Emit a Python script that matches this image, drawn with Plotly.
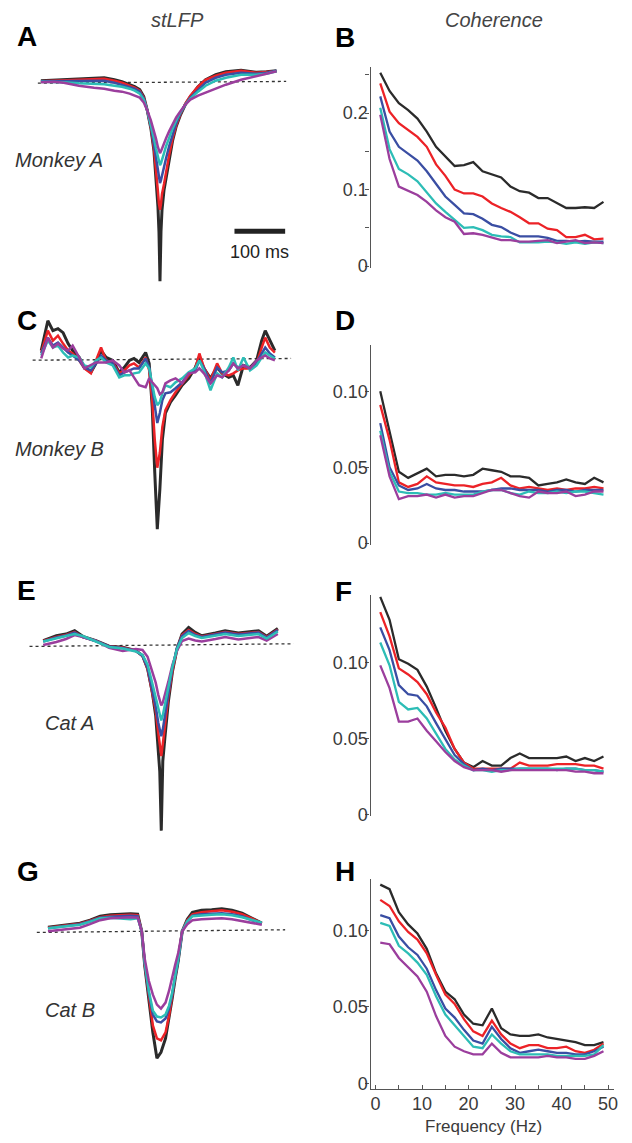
import plotly.graph_objects as go

W, H = 632, 1143

# ---------------- stLFP data (time in ms re spike, amplitude in arbitrary units, baseline = 0) ----------------
t_A = [-235, -210, -190, -160, -130, -110, -90, -75, -60, -50, -40, -32, -25, -18, -12, -8, -4, -2, 0, 2,
       4, 8, 12, 18, 25, 32, 40, 50, 60, 75, 90, 110, 130, 160, 190, 210, 230]
A_black = [2, 2.5, 3, 3.5, 4.5, 5, 3, 1, -2, -4, -7, -14, -28, -46, -68, -95, -125, -150, -200, -150,
           -128, -108, -96, -76, -58, -44, -33, -22, -14, -4, 3, 8, 11, 12.5, 10.5, 11, 12]
A_red = [1.5, 2, 2.5, 3, 4, 4, 2, 0, -3, -5, -8, -15, -28, -45, -66, -85, -110, -122, -128, -122,
         -112, -102, -90, -73, -56, -43, -32, -21, -13, -4, 3, 7, 10, 12, 10, 10.5, 11.5]
A_blue = [1.5, 1.5, 1.5, 1.5, 2, 2, 0, -2, -4, -6, -9, -16, -28, -44, -62, -76, -90, -97, -101, -98,
          -93, -85, -76, -64, -52, -41, -31, -22, -15, -7, 0, 5, 8, 10, 9, 10, 12]
A_cyan = [1, 1, 0.5, -0.5, -1.5, -1.5, -3, -4, -6, -8, -11, -17, -28, -42, -56, -66, -76, -80, -83, -81,
          -77, -71, -64, -55, -46, -38, -30, -22, -16, -9, -3, 2, 5, 8, 8, 9, 11.5]
A_purple = [0.5, 1, 0, -3, -5, -6, -8, -9, -11, -13, -15, -20, -28, -38, -48, -56, -65, -69, -71, -69,
            -66, -61, -56, -49, -42, -35, -29, -22, -17, -13, -10, -6, -2, 3, 7, 9, 11.5]

t_C = [-229, -216, -206, -196, -186, -176, -167, -154, -144, -131, -121, -111, -101, -88, -75, -65, -55, -46, -36, -23,
       -16, -10, -5, 0, 5, 10, 16, 26, 36, 49, 62, 75, 83, 92, 105, 118, 128, 141, 150, 159,
       170, 183, 196, 206, 213, 222, 232]
C_black = [9, 39, 29, 31, 27, 16, 9, 2, -8, -13, -4, 9, 2, -1, -13, -8, -1, 1, -3, 7,
           -4, -48, -114, -171, -131, -81, -54, -43, -36, -26, -19, -8, 2, -9, -19, -8, -14, -18, -16, -26,
           -6, -8, -1, 19, 29, 19, 9]
C_red = [7, 29, 19, 24, 16, 9, 6, -1, -9, -14, -1, 12, -1, -3, -14, -11, -6, -4, -8, 2,
         -11, -41, -81, -109, -94, -68, -51, -41, -33, -24, -16, -9, 6, -8, -21, -4, -14, -16, -14, -11,
         -9, -9, -4, 12, 22, 12, 7]
C_blue = [6, 22, 14, 17, 12, 7, 4, -1, -8, -11, -4, 4, -1, -4, -16, -13, -11, -9, -9, 1,
          -8, -28, -48, -64, -54, -41, -34, -33, -29, -23, -14, -11, -1, -9, -24, -8, -13, -11, -4, -8,
          -6, -9, -3, 6, 12, 6, 2]
C_cyan = [4, 19, 12, 14, 7, 2, 4, 2, -6, -8, -1, 2, -3, -6, -18, -16, -16, -14, -13, -4,
          -9, -24, -38, -46, -43, -34, -26, -28, -23, -19, -13, -9, -1, -11, -31, -14, -18, -8, 2, -11,
          2, -11, -6, 2, 7, 4, 1]
C_purple = [1, 22, 12, 16, 11, 9, 14, 2, -9, -6, -3, -3, -3, -1, -6, -13, -11, -18, -26, -28,
            -19, -23, -26, -29, -35, -33, -24, -21, -19, -24, -14, -13, -9, -14, -24, -16, -18, -11, -4, -9,
            -6, -9, -1, 2, 4, 1, -1]

t_E = [-233, -207, -188, -171, -155, -129, -103, -76, -50, -37, -27, -18, -11, -6, -3, 0, 3, 7, 14, 22,
       31, 41, 54, 67, 80, 107, 126, 152, 172, 192, 208, 230]
E_black = [4.3, 9.3, 11, 14.3, 8.7, 4.3, -1.3, -2.3, -5.7, -10.7, -24, -47, -71, -104, -127, -187, -117, -94, -57, -27,
           -4, 11, 17.7, 12.7, 9.3, 12, 14.3, 12, 13.3, 14.3, 8.7, 16.7]
E_red = [4, 8, 10, 13, 8, 4, -1.5, -2.5, -6, -11, -24, -46, -66, -88, -102, -112, -100, -82, -52, -26,
         -4, 10, 15, 11, 8.5, 11, 13, 11, 12, 13, 8, 15.5]
E_blue = [3.5, 7.5, 9.5, 12.5, 8, 4, -1.5, -3, -6, -11, -23, -44, -62, -78, -87, -92, -85, -72, -47, -23,
          -3, 9, 14, 10, 8, 10.5, 12.5, 10.5, 11.5, 12.5, 7.5, 15]
E_cyan = [3.5, 7, 9, 11, 9, 3.5, -2, -3.5, -6.5, -10, -20, -38, -52, -64, -71, -76, -71, -61, -42, -22,
          -4, 7, 12, 9, 7, 9, 11, 9, 10, 11, 6.5, 13.5]
E_purple = [0, 3, 6, 10, 8, 4, -3, -6, -4, -5, -12, -26, -38, -50, -57, -61, -58, -51, -37, -20,
            -6, 4, 6.5, 4.5, 3.5, 6, 8, 5.5, 7, 8, 4.5, 11]

t_G = [-223, -200, -180, -160, -140, -120, -100, -80, -60, -46, -38, -32, -24, -16, -8, 0, 9, 16, 22, 28,
       34, 42, 52, 62, 80, 100, 120, 140, 160, 180, 199]
G_black = [4, 5.5, 6.5, 8, 11, 15, 16.5, 17, 17.5, 17, 0, -35, -67, -102, -128, -122, -108, -88, -68, -48,
           -30, 0, 12, 19, 21, 21.5, 22.5, 21, 18, 13, 8]
G_red = [3.5, 5, 6, 7.5, 10.5, 14, 15.5, 16, 16.5, 16, 0, -34, -65, -95, -108, -110, -102, -85, -66, -47,
         -29, 0, 11, 17, 19, 20, 21, 19.5, 17, 12.5, 8]
G_blue = [3, 4.5, 5.5, 7, 10, 13.5, 14.5, 15, 15.5, 15, 0, -33, -62, -84, -91, -92, -88, -78, -64, -46,
          -29, 0, 10, 15.5, 17, 17.5, 18, 17, 15, 11, 8]
G_cyan = [3, 4, 5, 6.5, 9.5, 13, 13.5, 12.5, 12, 13, 0, -32, -60, -80, -86, -87, -84, -75, -62, -45,
          -28, 0, 10, 15, 16, 16.5, 17, 16, 14, 11, 8.5]
G_purple = [0, 1, 2, 3.5, 7, 11, 13, 13.5, 14, 13.5, 0, -28, -50, -64, -74, -78, -72, -60, -46, -34,
            -22, 0, 7, 11, 12, 12.5, 13, 12, 10, 8, 6.5]

# dotted zero lines (start/end time, level)
base_A_t, base_A_v = [-241, 249], [-0.4, 1.3]
base_C_t, base_C_v = [-246, 264], [-0.7, 1.0]
base_E_t, base_E_v = [-260, 261], [-1.5, 1.2]
base_G_t, base_G_v = [-245, 245], [-1.3, 1.4]

# 100 ms scale bar (panel A)
scale_t = [147, 247]
scale_v = [-149.5, -149.5]

# ---------------- Coherence data ----------------
freq = [1, 3, 5, 7, 9, 11, 13, 15, 17, 19, 21, 23, 25, 27, 29, 31, 33, 35, 37, 39, 41, 43, 45, 47, 49]

B_black = [0.253, 0.229, 0.213, 0.204, 0.193, 0.176, 0.156, 0.144, 0.131, 0.132, 0.136, 0.124, 0.120, 0.116, 0.104,
           0.098, 0.096, 0.089, 0.089, 0.082, 0.076, 0.076, 0.077, 0.076, 0.084]
B_red = [0.239, 0.202, 0.187, 0.178, 0.169, 0.156, 0.133, 0.118, 0.100, 0.095, 0.095, 0.091, 0.082, 0.076, 0.071,
         0.064, 0.056, 0.056, 0.049, 0.047, 0.038, 0.038, 0.041, 0.035, 0.036]
B_blue = [0.222, 0.176, 0.156, 0.147, 0.138, 0.124, 0.107, 0.091, 0.080, 0.069, 0.068, 0.062, 0.054, 0.051, 0.044,
          0.039, 0.039, 0.039, 0.037, 0.033, 0.033, 0.032, 0.033, 0.032, 0.032]
B_cyan = [0.207, 0.153, 0.127, 0.120, 0.111, 0.096, 0.082, 0.071, 0.060, 0.050, 0.051, 0.047, 0.041, 0.039, 0.038,
          0.031, 0.031, 0.031, 0.032, 0.031, 0.029, 0.031, 0.029, 0.031, 0.030]
B_purple = [0.198, 0.140, 0.104, 0.098, 0.093, 0.084, 0.073, 0.064, 0.058, 0.042, 0.043, 0.041, 0.037, 0.034, 0.034,
            0.032, 0.032, 0.033, 0.034, 0.030, 0.032, 0.034, 0.030, 0.031, 0.030]

D_black = [0.100, 0.074, 0.047, 0.043, 0.046, 0.049, 0.044, 0.045, 0.045, 0.044, 0.045, 0.049, 0.048, 0.047, 0.044,
           0.044, 0.043, 0.038, 0.039, 0.040, 0.042, 0.040, 0.039, 0.043, 0.040]
D_red = [0.091, 0.068, 0.040, 0.037, 0.039, 0.044, 0.040, 0.039, 0.038, 0.038, 0.037, 0.039, 0.040, 0.043, 0.038,
         0.036, 0.037, 0.036, 0.035, 0.036, 0.035, 0.036, 0.036, 0.037, 0.036]
D_blue = [0.079, 0.050, 0.038, 0.035, 0.036, 0.039, 0.036, 0.035, 0.035, 0.034, 0.034, 0.034, 0.035, 0.036, 0.036,
          0.035, 0.035, 0.035, 0.034, 0.035, 0.035, 0.034, 0.035, 0.035, 0.035]
D_cyan = [0.074, 0.047, 0.034, 0.033, 0.033, 0.032, 0.032, 0.033, 0.032, 0.032, 0.032, 0.034, 0.035, 0.035, 0.033,
          0.032, 0.034, 0.033, 0.033, 0.034, 0.033, 0.034, 0.034, 0.033, 0.032]
D_purple = [0.071, 0.044, 0.029, 0.031, 0.031, 0.032, 0.030, 0.032, 0.030, 0.031, 0.031, 0.033, 0.035, 0.035, 0.033,
            0.031, 0.030, 0.034, 0.033, 0.033, 0.034, 0.031, 0.032, 0.034, 0.034]

F_black = [0.143, 0.128, 0.102, 0.099, 0.095, 0.084, 0.070, 0.055, 0.043, 0.034, 0.031, 0.035, 0.032, 0.032, 0.037,
           0.040, 0.037, 0.037, 0.037, 0.037, 0.038, 0.035, 0.037, 0.035, 0.038]
F_red = [0.133, 0.117, 0.096, 0.092, 0.087, 0.079, 0.067, 0.057, 0.043, 0.034, 0.030, 0.030, 0.030, 0.030, 0.030,
         0.034, 0.032, 0.032, 0.032, 0.033, 0.033, 0.033, 0.032, 0.032, 0.030]
F_blue = [0.123, 0.108, 0.085, 0.079, 0.078, 0.071, 0.060, 0.049, 0.039, 0.033, 0.029, 0.030, 0.029, 0.030, 0.030,
          0.030, 0.030, 0.030, 0.030, 0.029, 0.030, 0.030, 0.029, 0.029, 0.028]
F_cyan = [0.113, 0.098, 0.074, 0.069, 0.070, 0.063, 0.053, 0.043, 0.036, 0.032, 0.029, 0.029, 0.028, 0.029, 0.029,
          0.030, 0.030, 0.030, 0.030, 0.030, 0.030, 0.030, 0.029, 0.029, 0.028]
F_purple = [0.098, 0.083, 0.061, 0.061, 0.063, 0.055, 0.048, 0.041, 0.035, 0.031, 0.029, 0.029, 0.029, 0.028, 0.029,
            0.029, 0.029, 0.029, 0.029, 0.029, 0.029, 0.028, 0.028, 0.027, 0.027]

H_black = [0.130, 0.127, 0.112, 0.104, 0.098, 0.088, 0.072, 0.060, 0.055, 0.045, 0.039, 0.038, 0.049, 0.036, 0.032,
           0.031, 0.031, 0.032, 0.030, 0.029, 0.028, 0.027, 0.025, 0.025, 0.027]
H_red = [0.120, 0.116, 0.106, 0.099, 0.094, 0.085, 0.071, 0.058, 0.052, 0.042, 0.034, 0.031, 0.041, 0.032, 0.026,
         0.023, 0.025, 0.025, 0.023, 0.023, 0.024, 0.021, 0.020, 0.022, 0.026]
H_blue = [0.110, 0.108, 0.096, 0.089, 0.084, 0.075, 0.061, 0.049, 0.043, 0.035, 0.028, 0.026, 0.037, 0.029, 0.023,
          0.020, 0.021, 0.022, 0.021, 0.020, 0.020, 0.019, 0.019, 0.021, 0.024]
H_cyan = [0.105, 0.103, 0.090, 0.085, 0.079, 0.071, 0.057, 0.045, 0.038, 0.031, 0.024, 0.023, 0.032, 0.026, 0.021,
          0.019, 0.019, 0.019, 0.019, 0.018, 0.018, 0.018, 0.018, 0.019, 0.025]
H_purple = [0.092, 0.091, 0.082, 0.076, 0.070, 0.060, 0.044, 0.031, 0.024, 0.021, 0.019, 0.019, 0.026, 0.020, 0.017,
            0.017, 0.017, 0.017, 0.018, 0.017, 0.017, 0.016, 0.016, 0.018, 0.021]

# ---------------- styling ----------------
COL = {"black": "#2b2b2b", "red": "#ec2227", "blue": "#3a4ea3", "cyan": "#2dbdb6", "purple": "#9b3e9d"}
FONT = "Liberation Sans, Arial, Helvetica, sans-serif"
GRAY = "#3a3a3a"


def pxx(x):
    return x / W


def pxy(y):
    return 1 - y / H


fig = go.Figure()

MS_PER_PX = 1 / 0.51
left_panels = [
    # axis index, time, series, zero-time pixel, (top, bottom) pixels, baseline pixel, baseline
    (1, t_A, [("black", A_black), ("red", A_red), ("blue", A_blue), ("cyan", A_cyan), ("purple", A_purple)],
     161.0, (45, 295), 83.3, (base_A_t, base_A_v)),
    (3, t_C, [("black", C_black), ("red", C_red), ("blue", C_blue), ("cyan", C_cyan), ("purple", C_purple)],
     158.3, (300, 545), 362.0, (base_C_t, base_C_v)),
    (5, t_E, [("black", E_black), ("red", E_red), ("blue", E_blue), ("purple", E_purple), ("cyan", E_cyan)],
     162.3, (570, 845), 649.5, (base_E_t, base_E_v)),
    (7, t_G, [("black", G_black), ("red", G_red), ("blue", G_blue), ("cyan", G_cyan), ("purple", G_purple)],
     162.0, (850, 1080), 937.7, (base_G_t, base_G_v)),
]

layout_axes = {}
for k, t, series, c, (top, bot), b, (bt, bv) in left_panels:
    xa, ya = f"x{k}", f"y{k}"
    fig.add_trace(go.Scatter(x=bt, y=bv, mode="lines", xaxis=xa, yaxis=ya,
                             line=dict(color="#333333", width=1.3, dash="dot"),
                             showlegend=False, hoverinfo="skip"))
    for name, vals in series:
        fig.add_trace(go.Scatter(x=t, y=vals, mode="lines", xaxis=xa, yaxis=ya,
                                 line=dict(color=COL[name], width=3.0 if name == "black" else 2.5),
                                 showlegend=False, hoverinfo="skip"))
    layout_axes[f"xaxis{k}"] = dict(domain=[pxx(20), pxx(310)],
                                    range=[(20 - c) * MS_PER_PX, (310 - c) * MS_PER_PX],
                                    visible=False, anchor=ya)
    layout_axes[f"yaxis{k}"] = dict(domain=[pxy(bot), pxy(top)], range=[b - bot, b - top],
                                    visible=False, anchor=xa)

# scale bar
fig.add_trace(go.Scatter(x=scale_t, y=scale_v, mode="lines", xaxis="x1", yaxis="y1",
                         line=dict(color="#222222", width=5), showlegend=False, hoverinfo="skip"))

right_panels = [
    (2, [("black", B_black), ("red", B_red), ("blue", B_blue), ("cyan", B_cyan), ("purple", B_purple)],
     (67, 270), [-0.0026, 0.261], [0, 0.1, 0.2], ["0", "0.1", "0.2"], [0.05, 0.15, 0.25]),
    (4, [("black", D_black), ("red", D_red), ("blue", D_blue), ("cyan", D_cyan), ("purple", D_purple)],
     (347, 549), [-0.0013, 0.1307], [0, 0.05, 0.10], ["0", "0.05", "0.10"], []),
    (6, [("black", F_black), ("red", F_red), ("blue", F_blue), ("cyan", F_cyan), ("purple", F_purple)],
     (599, 822), [-0.0013, 0.1444], [0, 0.05, 0.10], ["0", "0.05", "0.10"], []),
    (8, [("black", H_black), ("red", H_red), ("blue", H_blue), ("cyan", H_cyan), ("purple", H_purple)],
     (885, 1097), [-0.0039, 0.1338], [0, 0.05, 0.10], ["0", "0.05", "0.10"], []),
]

F0_PX, HZ_PX = 378.0, 4.68
for k, series, (top, bot), yr, tv, tt, minor in right_panels:
    xa, ya = f"x{k}", f"y{k}"
    for name, vals in series:
        fig.add_trace(go.Scatter(x=freq, y=vals, mode="lines", xaxis=xa, yaxis=ya,
                                 line=dict(color=COL[name], width=2.3),
                                 showlegend=False, hoverinfo="skip"))
    xdef = dict(domain=[pxx(373), pxx(618)],
                range=[(373 - F0_PX) / HZ_PX, (618 - F0_PX) / HZ_PX],
                anchor=ya, showgrid=False, zeroline=False)
    if k == 8:
        xdef.update(showline=True, linecolor="#555555", linewidth=1.3,
                    ticks="inside", ticklen=4, tickcolor="#555555", tickwidth=1.2,
                    tickvals=[0, 10, 20, 30, 40, 50], ticktext=["0", "10", "20", "30", "40", "50"],
                    tickfont=dict(family=FONT, size=18, color=GRAY), ticklabelstandoff=-2,
                    minor=dict(tickvals=[5, 15, 25, 35, 45], ticks="inside", ticklen=4,
                               tickcolor="#555555", tickwidth=1.2))
    else:
        xdef.update(visible=False)
    layout_axes[f"xaxis{k}"] = xdef
    ydef = dict(domain=[pxy(bot), pxy(top)], range=yr, anchor=xa,
                showline=True, linecolor="#555555", linewidth=1.3,
                ticks="outside", ticklen=4, tickcolor="#555555", tickwidth=1.2,
                tickvals=tv, ticktext=tt, showgrid=False, zeroline=False,
                ticklabelstandoff=-6,
                tickfont=dict(family=FONT, size=18, color=GRAY))
    if minor:
        ydef["minor"] = dict(tickvals=minor, ticks="outside", ticklen=4, tickcolor="#555555", tickwidth=1.2)
    layout_axes[f"yaxis{k}"] = ydef

annotations = []
letters = [("A", 15, 37), ("B", 335, 37.5), ("C", 15, 323), ("D", 335, 322.5),
           ("E", 15, 595), ("F", 335, 596), ("G", 15, 878), ("H", 335, 878)]
for L, x, y in letters:
    annotations.append(dict(text=f"<b>{L}</b>", x=pxx(x), y=pxy(y), xref="paper", yref="paper",
                            xanchor="left", yanchor="middle", showarrow=False,
                            font=dict(family=FONT, size=28, color="black")))
for txt, x, y in [("stLFP", 179, 20), ("Coherence", 497, 20)]:
    annotations.append(dict(text=f"<i>{txt}</i>", x=pxx(x), y=pxy(y), xref="paper", yref="paper",
                            xanchor="center", yanchor="middle", showarrow=False,
                            font=dict(family=FONT, size=20, color="#444444")))
for txt, x, y in [("Monkey A", 13, 161), ("Monkey B", 13, 452), ("Cat A", 43, 728), ("Cat B", 43, 1017)]:
    annotations.append(dict(text=f"<i>{txt}</i>", x=pxx(x), y=pxy(y), xref="paper", yref="paper",
                            xanchor="left", yanchor="middle", showarrow=False,
                            font=dict(family=FONT, size=20, color="#333333")))
annotations.append(dict(text="100 ms", x=(scale_t[0] + scale_t[1]) / 2, y=-170, xref="x1", yref="y1",
                        xanchor="center", yanchor="middle", showarrow=False,
                        font=dict(family=FONT, size=18, color="#222222")))
annotations.append(dict(text="Frequency (Hz)", x=pxx(487), y=pxy(1134), xref="paper", yref="paper",
                        xanchor="center", yanchor="middle", showarrow=False, borderpad=0,
                        font=dict(family=FONT, size=17, color=GRAY)))

fig.update_layout(width=W, height=H, autosize=False,
                  margin=dict(l=0, r=0, t=0, b=0, pad=0),
                  paper_bgcolor="white", plot_bgcolor="white",
                  showlegend=False, annotations=annotations, **layout_axes)

fig.write_html("out.html")
